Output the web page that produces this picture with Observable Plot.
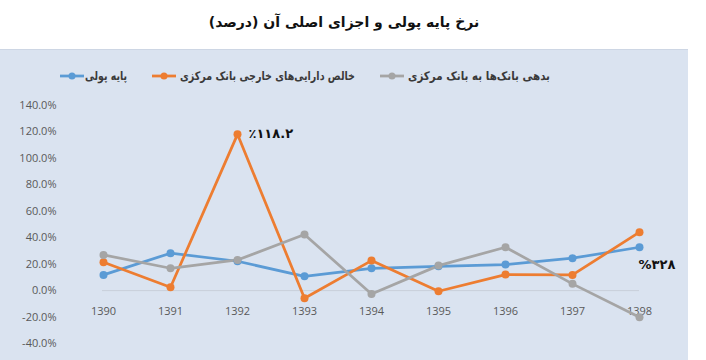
<!DOCTYPE html>
<html>
<head>
<meta charset="utf-8">
<script src="https://cdn.jsdelivr.net/npm/d3@7"></script>
<script src="https://cdn.jsdelivr.net/npm/@observablehq/plot@0.6"></script>
<style>
  html, body { margin: 0; padding: 0; background: #fff; }
  #wrap { position: relative; width: 706px; height: 360px; overflow: hidden; font-family: "DejaVu Sans", sans-serif; }
  #title { position: absolute; left: 0; top: 0; width: 688px; height: 49px; text-align: center; line-height: 44px; font-weight: bold; font-size: 14px; color: #111; direction: rtl; }
  #panel { position: absolute; left: 0; top: 49px; width: 688px; height: 311px; background: #dae3f0; border-top: 1px solid #cdd6e4; box-sizing: border-box; }
  .lgm { position: absolute; top: 21px; }
  .lgt { position: absolute; top: 17px; height: 18px; line-height: 18px; font-size: 12px; color: #3a3a3a; font-weight: bold; white-space: nowrap; transform-origin: 0 50%; }
  #chart { position: absolute; left: 0; top: 41px; }
</style>
</head>
<body>
<div id="wrap">
  <div id="title">نرخ پایه پولی و اجزای اصلی آن (درصد)</div>
  <div id="panel">
    <div id="legend"></div>
    <div id="chart"></div>
  </div>
</div>
<script>
const years = ["1390","1391","1392","1393","1394","1395","1396","1397","1398"];
const seriesNames = ["پایه پولی", "خالص دارایی‌های خارجی بانک مرکزی", "بدهی بانک‌ها به بانک مرکزی"];
const seriesColors = ["#5b9bd5", "#ed7d31", "#a5a5a5"];
const baseMoney = [11.9, 28.3, 22.2, 10.8, 16.9, 18.4, 19.7, 24.5, 32.8];
const foreignAssets = [21.4, 2.5, 118.2, -5.8, 22.7, -0.5, 12.1, 11.9, 44.2];
const bankDebt = [27.0, 16.9, 23.2, 42.4, -2.5, 18.9, 32.8, 5.1, -20.2];
const yTicks = [-40, -20, 0, 20, 40, 60, 80, 100, 120, 140];
const annotations = [
  {year: "1392", value: 118.2, label: "٪۱۱۸.۲"},
  {year: "1398", value: 32.8, label: "%۳۲۸"}
];

const values = [baseMoney, foreignAssets, bankDebt];
const data = [];
values.forEach((arr, s) => arr.forEach((v, i) => data.push({year: years[i], value: v, series: seriesNames[s]})));

// legend (HTML)
const markerLeft = [60, 152, 380];
const textLeft = [85, 180, 408];
const textWidth = [42, 175, 142];
const legend = document.getElementById("legend");
seriesNames.forEach((name, i) => {
  const m = document.createElement("div");
  m.className = "lgm";
  m.style.left = markerLeft[i] + "px";
  m.innerHTML = `<svg width="24" height="10" style="display:block"><line x1="0" y1="5" x2="24" y2="5" stroke="${seriesColors[i]}" stroke-width="2.75"/><circle cx="12" cy="5" r="3.5" fill="${seriesColors[i]}"/></svg>`;
  legend.appendChild(m);
  const t = document.createElement("span");
  t.className = "lgt";
  t.dir = "rtl";
  t.style.left = textLeft[i] + "px";
  t.textContent = name;
  legend.appendChild(t);
  const w = t.getBoundingClientRect().width;
  if (w > 0) t.style.transform = `scaleX(${textWidth[i] / w})`;
});

const chart = Plot.plot({
  width: 688,
  height: 269,
  marginLeft: 102,
  marginRight: 49,
  marginTop: 14,
  marginBottom: 17,
  style: {background: "transparent", fontFamily: "'Open Sans', 'DejaVu Sans', sans-serif", fontSize: "11px", color: "#595959"},
  x: {type: "point", domain: years, padding: 0, axis: null},
  y: {domain: [-40, 140], ticks: yTicks, tickFormat: d => d.toFixed(1) + "%", label: null},
  color: {domain: seriesNames, range: seriesColors},
  marks: [
    Plot.axisY({ticks: yTicks, tickSize: 0, tickPadding: 46, tickFormat: d => d.toFixed(1) + "%", label: null, fill: "#595959"}),
    Plot.ruleY([0], {stroke: "#c8cfd9", strokeWidth: 1}),
    Plot.text(years, {x: d => d, y: () => 0, dy: 21, fill: "#595959", fontSize: 11}),
    Plot.line(data, {x: "year", y: "value", z: "series", stroke: "series", strokeWidth: 2.75}),
    Plot.dot(data, {x: "year", y: "value", fill: "series", r: 4}),
    Plot.text(annotations, {x: "year", y: "value", text: "label", textAnchor: "start", dx: 11, fontWeight: "bold", fontSize: 13, fill: "#111", fontFamily: "DejaVu Sans", filter: d => d.year === "1392"}),
    Plot.text(annotations, {x: "year", y: "value", text: "label", textAnchor: "start", dx: -1, dy: 18, fontWeight: "bold", fontSize: 13, fill: "#111", fontFamily: "DejaVu Sans", filter: d => d.year === "1398"})
  ]
});
document.getElementById("chart").appendChild(chart);
</script>
</body>
</html>
